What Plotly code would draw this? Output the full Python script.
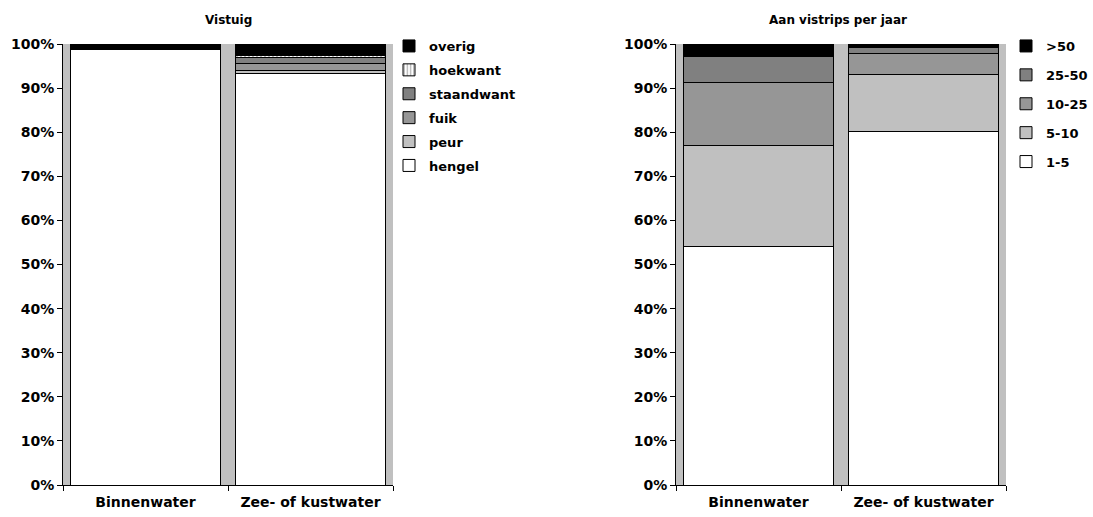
import plotly.graph_objects as go

# Categories shared by both panels
waters = ["Binnenwater", "Zee- of kustwater"]

# Panel 1: gear used (share of anglers)
gear_names = ["hengel", "peur", "fuik", "staandwant", "hoekwant", "overig"]
gear_hengel = [0.988, 0.932]
gear_peur = [0.0, 0.007]
gear_fuik = [0.0, 0.016]
gear_staandwant = [0.0, 0.014]
gear_hoekwant = [0.0, 0.004]
gear_overig = [0.012, 0.027]
gear_values = [gear_hengel, gear_peur, gear_fuik, gear_staandwant, gear_hoekwant, gear_overig]

# Panel 2: fishing trips per year
trip_names = ["1-5", "5-10", "10-25", "25-50", ">50"]
trips_1_5 = [0.540, 0.802]
trips_5_10 = [0.230, 0.129]
trips_10_25 = [0.142, 0.048]
trips_25_50 = [0.059, 0.012]
trips_50_plus = [0.029, 0.009]
trip_values = [trips_1_5, trips_5_10, trips_10_25, trips_25_50, trips_50_plus]

gear_colors = ["#FFFFFF", "#C0C0C0", "#969696", "#808080", "#FFFFFF", "#000000"]
trip_colors = ["#FFFFFF", "#C0C0C0", "#969696", "#808080", "#000000"]

FONT = "DejaVu Sans"

fig = go.Figure()

for i, (name, vals) in enumerate(zip(gear_names, gear_values)):
    marker = dict(color=gear_colors[i], line=dict(color="#000000", width=1))
    if name == "hoekwant":
        marker["pattern"] = dict(shape="|", fgcolor="#808080", bgcolor="#FFFFFF",
                                 size=4, solidity=0.5)
    fig.add_trace(go.Bar(
        x=waters, y=vals, name=name, marker=marker,
        xaxis="x", yaxis="y", legend="legend", legendgroup=f"g{i}",
        legendrank=100 - i, hoverinfo="name+y",
    ))

for i, (name, vals) in enumerate(zip(trip_names, trip_values)):
    fig.add_trace(go.Bar(
        x=waters, y=vals, name=name,
        marker=dict(color=trip_colors[i], line=dict(color="#000000", width=1)),
        xaxis="x2", yaxis="y2", legend="legend2", legendgroup=f"t{i}",
        legendrank=100 - i, hoverinfo="name+y",
    ))

W, H = 1093, 517
top_px, bottom_px = 44, 485
ydom = [1 - bottom_px / H, 1 - top_px / H]

tickfont = dict(family=FONT, size=14, color="#000000", weight="bold")

common_x = dict(type="category", showline=True, linecolor="#000000", linewidth=1,
                ticks="outside", ticklen=5, tickcolor="#000000", tickson="boundaries",
                tickfont=tickfont, showgrid=False, zeroline=False, fixedrange=True,
                automargin=False, ticklabelstandoff=4)
common_y = dict(range=[0, 1], dtick=0.1, tickformat=".0%", showline=True,
                linecolor="#000000", linewidth=1, ticks="outside", ticklen=5,
                tickcolor="#000000", tickfont=tickfont, showgrid=False,
                zeroline=False, domain=ydom, fixedrange=True, automargin=False)

legend_common = dict(font=dict(family=FONT, size=13, color="#000000", weight="bold"),
                     bgcolor="rgba(0,0,0,0)", traceorder="grouped",
                     xanchor="left", yanchor="top", itemclick=False)

title_font = dict(family=FONT, size=12, color="#000000", weight="bold")

fig.update_layout(
    width=W, height=H,
    margin=dict(l=0, r=0, t=0, b=0, autoexpand=False),
    paper_bgcolor="#FFFFFF",
    plot_bgcolor="#C0C0C0",
    barmode="stack",
    bargap=0.085,
    showlegend=True,
    xaxis=dict(common_x, domain=[63 / W, 393 / W], anchor="y"),
    yaxis=dict(common_y, anchor="x"),
    xaxis2=dict(common_x, domain=[676 / W, 1006 / W], anchor="y2"),
    yaxis2=dict(common_y, anchor="x2"),
    legend=dict(legend_common, x=389 / W, y=1 - 31 / H, tracegroupgap=4),
    legend2=dict(legend_common, x=1006 / W, y=1 - 31 / H, tracegroupgap=9),
    annotations=[
        dict(text="Vistuig", x=228 / W, y=1 - 20 / H, xref="paper", yref="paper",
             xanchor="center", yanchor="middle", showarrow=False, font=title_font),
        dict(text="Aan vistrips per jaar", x=838 / W, y=1 - 20 / H, xref="paper",
             yref="paper", xanchor="center", yanchor="middle", showarrow=False,
             font=title_font),
    ],
)

fig.write_html("out.html")
